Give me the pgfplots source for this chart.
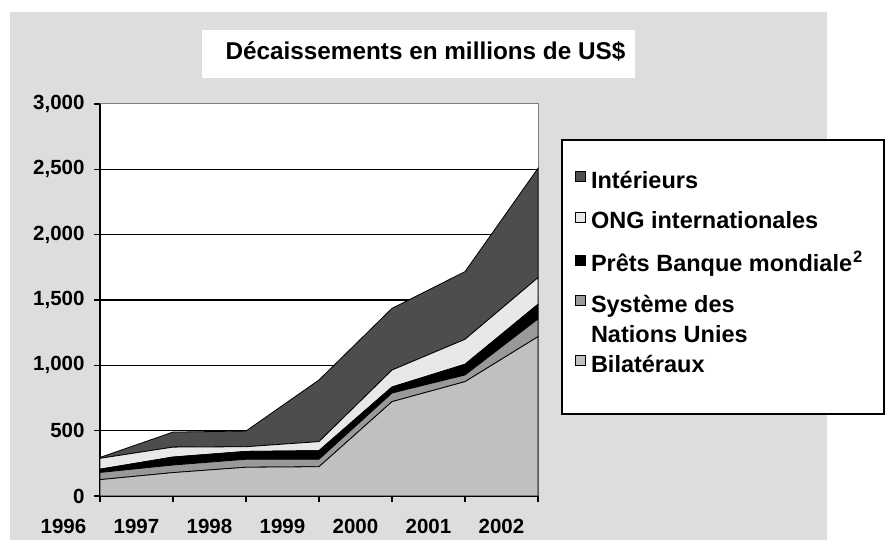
\documentclass[border=0pt]{standalone}
\usepackage{fontspec}
\setmainfont{Liberation Sans}
\usepackage{pgfplots}
\pgfplotsset{compat=1.18}
\definecolor{bg}{HTML}{DDDDDD}
\definecolor{cBil}{HTML}{C0C0C0}
\definecolor{cUN}{HTML}{999999}
\definecolor{cWB}{HTML}{000000}
\definecolor{cONG}{HTML}{E8E8E8}
\definecolor{cInt}{HTML}{4D4D4D}
\newcommand{\ls}{\rule[-6bp]{0pt}{24bp}}
\begin{document}
\begin{tikzpicture}[x=1bp,y=1bp]
\useasboundingbox (0,0) rectangle (887,541);
\fill[white] (0,0) rectangle (887,541);
\fill[bg] (10,1) rectangle (827,529);
\fill[white] (202,463) rectangle (635,511);
\node[font=\fontsize{24.3bp}{29bp}\selectfont\bfseries, inner sep=0pt] at (425.5,490) {Décaissements en millions de US\$};
\fill[white] (100,45) rectangle (538,437);
\draw[black!50, line width=1bp] (100,437) -- (538,437) -- (538,45);
\filldraw[fill=white, draw=black, line width=1.2bp] (562,127) rectangle (884,401);
\begin{axis}[
  at={(100bp,45bp)}, anchor=south west,
  scale only axis, width=438bp, height=392bp,
  xmin=0, xmax=6, ymin=0, ymax=3000,
  stack plots=y,
  axis lines=left,
  axis line style={-, line width=1.5bp, black},
  xtick={0,1,2,3,4,5,6},
  xticklabels={1996,1997,1998,1999,2000,2001,2002},
  xticklabel style={xshift=-36.5bp, yshift=-14bp},
  yticklabel style={xshift=-6bp},
  ytick={0,500,1000,1500,2000,2500},
  extra y ticks={3000},
  extra y tick style={grid=none},
  ymajorgrids,
  major grid style={black, line width=1.1bp},
  tick align=outside,
  major tick length=6bp,
  tick style={black, line width=1.5bp},
  tick label style={font=\fontsize{20.5bp}{24bp}\selectfont\bfseries},
  scaled y ticks=false,
  /pgf/number format/1000 sep={,},
  /pgf/number format/assume math mode=true,
  clip=false,
  reverse legend,
  legend image code/.code={\filldraw[line width=0.8bp] (0bp,6.8bp) rectangle (10bp,16.8bp);},
  legend style={
    at={(1.08447,0.83036)}, anchor=north west,
    draw=none, fill=none, inner sep=0pt,
    row sep=16.3bp, column sep=5bp,
    font=\fontsize{23.5bp}{30bp}\selectfont\bfseries,
    cells={anchor=base west},
    nodes={inner sep=0pt, text depth=, text height=},
  },
]
\addplot[fill=cBil, draw=black, line width=0.8bp] coordinates {(0,125) (1,179) (2,220) (3,224) (4,722) (5,875) (6,1219)} \closedcycle;
\addlegendentry{\ls Bilatéraux}
\addplot[fill=cUN, draw=black, line width=0.8bp] coordinates {(0,55) (1,58) (2,61) (3,57) (4,66) (5,51) (6,136)} \closedcycle;
\addlegendentry{\vtop{\hbox{\ls Système des}\hbox{\ls Nations Unies}\vskip-10bp}}
\addplot[fill=cWB, draw=black, line width=0.8bp] coordinates {(0,25) (1,61) (2,60) (3,66) (4,46) (5,82) (6,112)} \closedcycle;
\addlegendentry{\ls Prêts Banque mondiale\kern1bp\textsuperscript{2}}
\addplot[fill=cONG, draw=black, line width=0.8bp] coordinates {(0,83) (1,76) (2,36) (3,69) (4,130) (5,191) (6,204)} \closedcycle;
\addlegendentry{\ls ONG internationales}
\addplot[fill=cInt, draw=black, line width=0.8bp] coordinates {(0,7) (1,115) (2,120) (3,472) (4,472) (5,518) (6,837)} \closedcycle;
\addlegendentry{\ls Intérieurs}
\end{axis}
\end{tikzpicture}
\end{document}
